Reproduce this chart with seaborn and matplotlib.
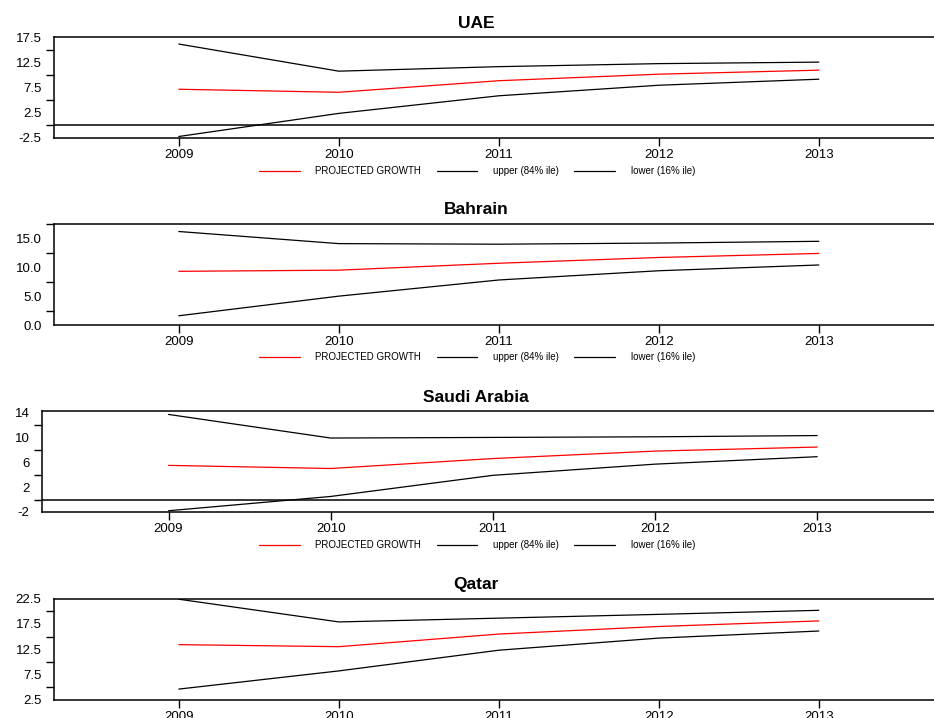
import matplotlib
matplotlib.use("Agg")
import matplotlib.pyplot as plt
import seaborn as sns
import pandas as pd
from matplotlib.ticker import MultipleLocator, FormatStrFormatter
from matplotlib.lines import Line2D

sns.set_theme(style="white")
plt.rcParams['font.family'] = ['Liberation Sans', 'DejaVu Sans']
plt.rcParams['axes.unicode_minus'] = False
plt.rcParams['text.color'] = 'black'

years = [2009, 2010, 2011, 2012, 2013]
countries = ["UAE", "Bahrain", "Saudi Arabia", "Qatar"]
series_names = ["PROJECTED GROWTH", "upper (84% ile)", "lower (16% ile)"]

uae_proj = [7.1, 6.5, 8.8, 10.1, 10.9]
uae_upper = [16.1, 10.7, 11.6, 12.2, 12.5]
uae_lower = [-2.3, 2.3, 5.8, 7.9, 9.1]

bah_proj = [9.3, 9.5, 10.7, 11.7, 12.4]
bah_upper = [16.2, 14.1, 14.0, 14.2, 14.5]
bah_lower = [1.6, 5.0, 7.8, 9.4, 10.4]

sau_proj = [5.5, 5.0, 6.6, 7.8, 8.45]
sau_upper = [13.7, 9.9, 10.0, 10.1, 10.3]
sau_lower = [-1.8, 0.5, 3.9, 5.7, 6.9]

qat_proj = [13.4, 13.0, 15.5, 17.0, 18.1]
qat_upper = [22.4, 17.9, 18.65, 19.4, 20.2]
qat_lower = [4.6, 8.2, 12.3, 14.7, 16.1]

data = {
    "UAE": (uae_proj, uae_upper, uae_lower),
    "Bahrain": (bah_proj, bah_upper, bah_lower),
    "Saudi Arabia": (sau_proj, sau_upper, sau_lower),
    "Qatar": (qat_proj, qat_upper, qat_lower),
}

rows = []
for c in countries:
    for name, vals in zip(series_names, data[c]):
        for y, v in zip(years, vals):
            rows.append({"country": c, "series": name, "year": y, "value": v})
df = pd.DataFrame(rows)

palette = {"PROJECTED GROWTH": "#ff0000", "upper (84% ile)": "#000000", "lower (16% ile)": "#000000"}

W, H = 934, 718
fig = plt.figure(figsize=(W / 100, H / 100), dpi=100)

# layout in pixels: left, top, bottom
layout = {
    "UAE": (54, 37, 137.5),
    "Bahrain": (54, 224, 325),
    "Saudi Arabia": (42, 410.7, 512),
    "Qatar": (54, 598.7, 699.7),
}
ylims = {"UAE": (-2.5, 17.5), "Bahrain": (0, 17.5), "Saudi Arabia": (-2, 14.3), "Qatar": (2.5, 22.5)}
ymajor = {"UAE": 5, "Bahrain": 5, "Saudi Arabia": 4, "Qatar": 5}
ytick0 = {"UAE": -2.5, "Bahrain": 0, "Saudi Arabia": -2, "Qatar": 2.5}
yfmt = {"UAE": "%.1f", "Bahrain": "%.1f", "Saudi Arabia": "%d", "Qatar": "%.1f"}
zero_line = {"UAE": True, "Bahrain": False, "Saudi Arabia": True, "Qatar": False}
title_y = {"UAE": 23, "Bahrain": 210, "Saudi Arabia": 397, "Qatar": 585}
legend_y = {"UAE": 171, "Bahrain": 357, "Saudi Arabia": 545}

for c in countries:
    left, top, bottom = layout[c]
    ax = fig.add_axes([left / W, 1 - bottom / H, 1.0 - left / W, (bottom - top) / H])
    sub = df[df.country == c]
    sns.lineplot(data=sub, x="year", y="value", hue="series", palette=palette,
                 hue_order=series_names, ax=ax, linewidth=0.9, legend=False)
    if zero_line[c]:
        ax.axhline(0, color="black", linewidth=1.1)
    ax.set_xlim(2008.22, 2013.72)
    lo, hi = ylims[c]
    ax.set_ylim(lo, hi)
    step = ymajor[c]
    major = []
    v = ytick0[c]
    while v <= hi + 1e-9:
        major.append(v)
        v += step
    ax.set_yticks(major)
    ax.yaxis.set_minor_locator(MultipleLocator(step / 2))
    ax.yaxis.set_major_formatter(FormatStrFormatter(yfmt[c]))
    ax.set_xticks(years)
    ax.set_xticklabels([str(y) for y in years])
    ax.set_xlabel("")
    ax.set_ylabel("")
    for s in ["left", "top", "bottom"]:
        ax.spines[s].set_visible(True)
        ax.spines[s].set_color("black")
        ax.spines[s].set_linewidth(1.1)
    ax.spines["right"].set_visible(False)
    ax.tick_params(axis="both", which="both", direction="out", color="black",
                   width=1.0, labelsize=9.5, labelcolor="black")
    ax.tick_params(axis="y", which="major", length=7, pad=2)
    ax.tick_params(axis="y", which="minor", length=6, left=True)
    ax.tick_params(axis="x", which="major", length=6, pad=2, bottom=True)
    ax.grid(False)
    fig.text(476 / W, 1 - title_y[c] / H, c, ha="center", va="center",
             fontsize=12.5, fontweight="bold", color="black")
    if c in legend_y:
        handles = [Line2D([0], [0], color=palette[n], linewidth=0.9) for n in series_names]
        fig.legend(handles, series_names, loc="center",
                   bbox_to_anchor=(477 / W, 1 - legend_y[c] / H), ncol=3,
                   frameon=False, fontsize=7, handlelength=4.2,
                   handletextpad=1.6, columnspacing=1.6, borderpad=0)

fig.savefig("out.png", dpi=100)
